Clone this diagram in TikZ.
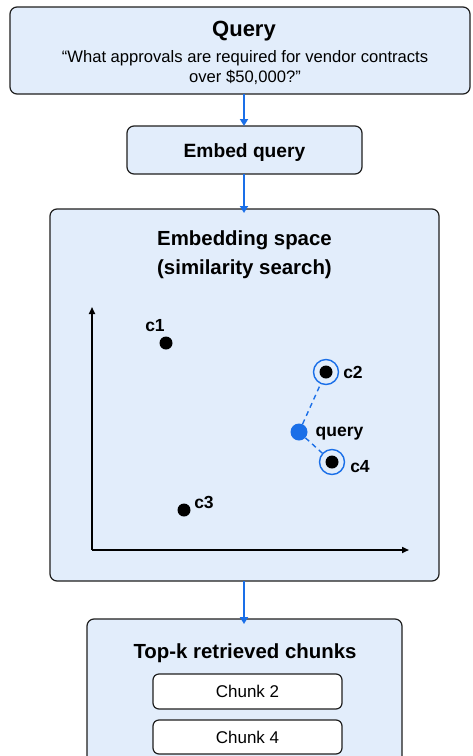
\documentclass[tikz,border=0pt]{standalone}
\usepackage{fontspec}
\setmainfont{Liberation Sans}
\usetikzlibrary{arrows.meta}
\definecolor{panel}{HTML}{E2EDFB}
\definecolor{edge}{HTML}{1F1F1F}
\definecolor{flow}{HTML}{1A6FE8}
\tikzset{
  x=1pt, y=-1pt,
  panelbox/.style={draw=edge, line width=1.2pt, fill=panel, rounded corners=7pt},
  chunkbox/.style={draw=edge, line width=1.2pt, fill=white, rounded corners=6pt},
  flowarrow/.style={draw=flow, line width=2.4pt, -{Triangle[length=7pt,width=8pt]}},
  axis/.style={draw=black, line width=1.6pt, -{Triangle[length=7pt,width=6pt]}},
  pt/.style={circle, fill=black, inner sep=0pt, minimum size=13pt},
  ring/.style={circle, draw=flow, line width=1.4pt, inner sep=0pt, minimum size=25pt},
  lbl/.style={font=\fontsize{17.5}{20}\selectfont\bfseries, inner sep=0pt},
  link/.style={draw=flow, line width=1.4pt, dash pattern=on 5pt off 4pt},
}
\begin{document}
\begin{tikzpicture}
\useasboundingbox (0,0) rectangle (473,756);
\clip (0,0) rectangle (473,756);
\fill[white] (0,0) rectangle (473,756);

% query box
\path[panelbox] (10,7) rectangle (470,94);
\node[font=\fontsize{22}{26}\selectfont\bfseries, inner sep=0pt] (qtitle) at (244,31) {Query};
\node[font=\fontsize{16.6}{20}\selectfont, align=center, inner sep=0pt] (qtext) at (245,68)
  {“What approvals are required for vendor contracts\\over \$50,000?”};
\coordinate (qbot) at (244,94);

% embed box
\path[panelbox] (127,126) rectangle (362,174);
\coordinate (embedtop) at (244,126);
\coordinate (embedbot) at (244,174);
\node[font=\fontsize{19.2}{22}\selectfont\bfseries, inner sep=0pt] (embed) at (244.5,153) {Embed query};

% embedding space panel
\path[panelbox] (50,209) rectangle (439,581);
\coordinate (spacetop) at (244,209);
\coordinate (spacebot) at (244,581);
\node[font=\fontsize{20.4}{29}\selectfont\bfseries, align=center, inner sep=0pt] (stitle) at (244.5,255)
  {Embedding space\\(similarity search)};

% axes
\coordinate (origin) at (92,550);
\coordinate (ytip) at (92,307);
\coordinate (xtip) at (409,550);
\draw[axis] (origin) -- (ytip);
\draw[axis] (origin) -- (xtip);

% points
\node[pt] (c1) at (166,343) {};
\node[lbl] (c1l) at (155,326) {c1};
\node[pt] (c2) at (326,372) {};
\node[ring] (c2r) at (326,372) {};
\node[lbl] (c2l) at (353,372) {c2};
\node[pt] (c4) at (332,462) {};
\node[ring] (c4r) at (332,462) {};
\node[lbl] (c4l) at (360,467) {c4};
\node[pt] (c3) at (184,510) {};
\node[lbl] (c3l) at (204,502) {c3};
\node[circle, fill=flow, inner sep=0pt, minimum size=17pt] (q) at (299,432) {};
\node[lbl] (ql) at (339.5,434) {query};
\draw[link] (q) -- (c2r);
\draw[link] (q) -- (c4r);

% results panel
\path[panelbox] (87,619) rectangle (402,790);
\coordinate (restop) at (244,619);
\node[font=\fontsize{20.4}{23}\selectfont\bfseries, inner sep=0pt] (rtitle) at (245,653.5) {Top-k retrieved chunks};
\node[chunkbox, minimum width=189pt, minimum height=35pt, inner sep=0pt,
  font=\fontsize{17}{20}\selectfont] (ch2) at (247.5,691.5) {Chunk 2};
\node[chunkbox, minimum width=189pt, minimum height=34pt, inner sep=0pt,
  font=\fontsize{17}{20}\selectfont] (ch4) at (247.5,737) {Chunk 4};

% flow arrows
\draw[flowarrow] (qbot) -- (embedtop);
\draw[flowarrow] (embedbot) -- ([yshift=-4pt]spacetop);
\draw[flowarrow] (spacebot) -- ([yshift=-5pt]restop);
\end{tikzpicture}
\end{document}
